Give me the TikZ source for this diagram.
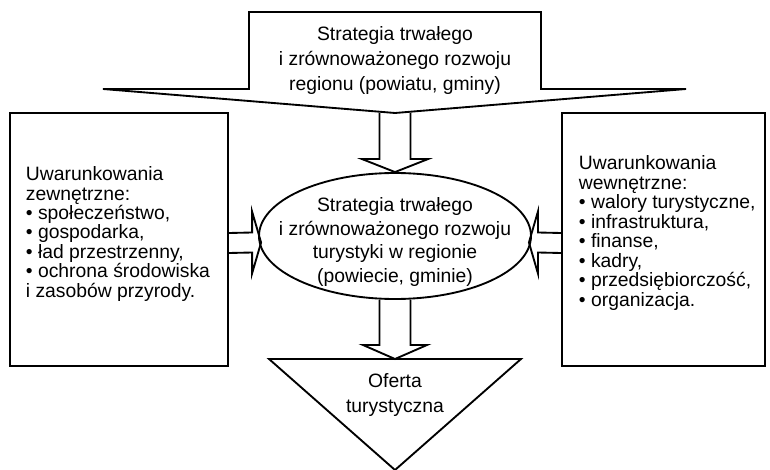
\documentclass[tikz,border=0pt]{standalone}
\usepackage{fontspec}
\setmainfont{Liberation Sans}
\usetikzlibrary{shapes.geometric,calc}
\begin{document}
\begin{tikzpicture}[x=0.75pt,y=-0.75pt,line width=1.4pt,
    txt/.style={font=\fontsize{14.5}{#1}\selectfont,inner sep=0pt},
    box/.style={draw,minimum height=189.75pt},
    blockarrow/.style={draw,line join=miter}]
      \useasboundingbox (0,0) rectangle (770,470);
      \draw (103,89) -- (249,89) -- (249,12) -- (541,12) -- (541,89) -- (686,89) -- (395,113) -- cycle;
      \coordinate (toptip) at (395,113);
      \node[txt=18.75pt,align=center] (top) at (395,61) {Strategia trwałego\\ i zrównoważonego rozwoju\\ regionu (powiatu, gminy)};
      \node[box,minimum width=163.5pt] (lbox) at (119,239.5) {};
      \node[box,minimum width=152.25pt] (rbox) at (663.5,239.5) {};
      \node[txt=14.6pt,align=left,anchor=west] (ltxt) at (25,234) {Uwarunkowania\\ zewnętrzne:\\ • społeczeństwo,\\ • gospodarka,\\ • ład przestrzenny,\\ • ochrona środowiska\\ i zasobów przyrody.};
      \node[txt=14.6pt,align=left,anchor=west] (rtxt) at (578,233) {Uwarunkowania\\ wewnętrzne:\\ • walory turystyczne,\\ • infrastruktura,\\ • finanse,\\ • kadry,\\ • przedsiębiorczość,\\ • organizacja.};
      \node[ellipse,draw,minimum width=204pt,minimum height=94.5pt,inner sep=0pt] (ell) at (395,236) {};
      \node[txt=17.8pt,align=center] (etxt) at (395,242) {Strategia trwałego\\ i zrównoważonego rozwoju\\ turystyki w regionie\\ (powiecie, gminie)};
      \draw (269,359) -- (521,359) -- (395,470) -- cycle;
      \coordinate (tritop) at (395,359);
      \node[txt=18.75pt,align=center] (offer) at (395,395) {Oferta\\ turystyczna};
      \draw[blockarrow] ($(toptip)+(-15.5,0)$) |- ($(ell.north)+(-33,-13)$) -- (ell.north)
        -- ($(ell.north)+(33,-13)$) -| ($(toptip)+(15.5,0)$);
      \draw[blockarrow] ($(ell.south)+(-15.5,0)$) |- ($(tritop)+(-32,-14)$) -- (tritop)
        -- ($(tritop)+(32,-14)$) -| ($(ell.south)+(15.5,0)$);
      \coordinate (ltip) at ($(lbox.east -| ell.west)+(3,3)$);
      \coordinate (rtip) at ($(rbox.west -| ell.east)+(-3,3)$);
      \draw[blockarrow] ($(lbox.east)+(0,-6.5)$) -- ($(ltip)+(-9,-10)$) -- ($(ltip)+(-9,-31)$) -- (ltip)
        -- ($(ltip)+(-9,31)$) -- ($(ltip)+(-9,10)$) -- ($(lbox.east)+(0,13.5)$);
      \draw[blockarrow] ($(rbox.west)+(0,-6.5)$) -- ($(rtip)+(9,-10)$) -- ($(rtip)+(9,-31)$) -- (rtip)
        -- ($(rtip)+(9,31)$) -- ($(rtip)+(9,10)$) -- ($(rbox.west)+(0,13.5)$);
\end{tikzpicture}
\end{document}
